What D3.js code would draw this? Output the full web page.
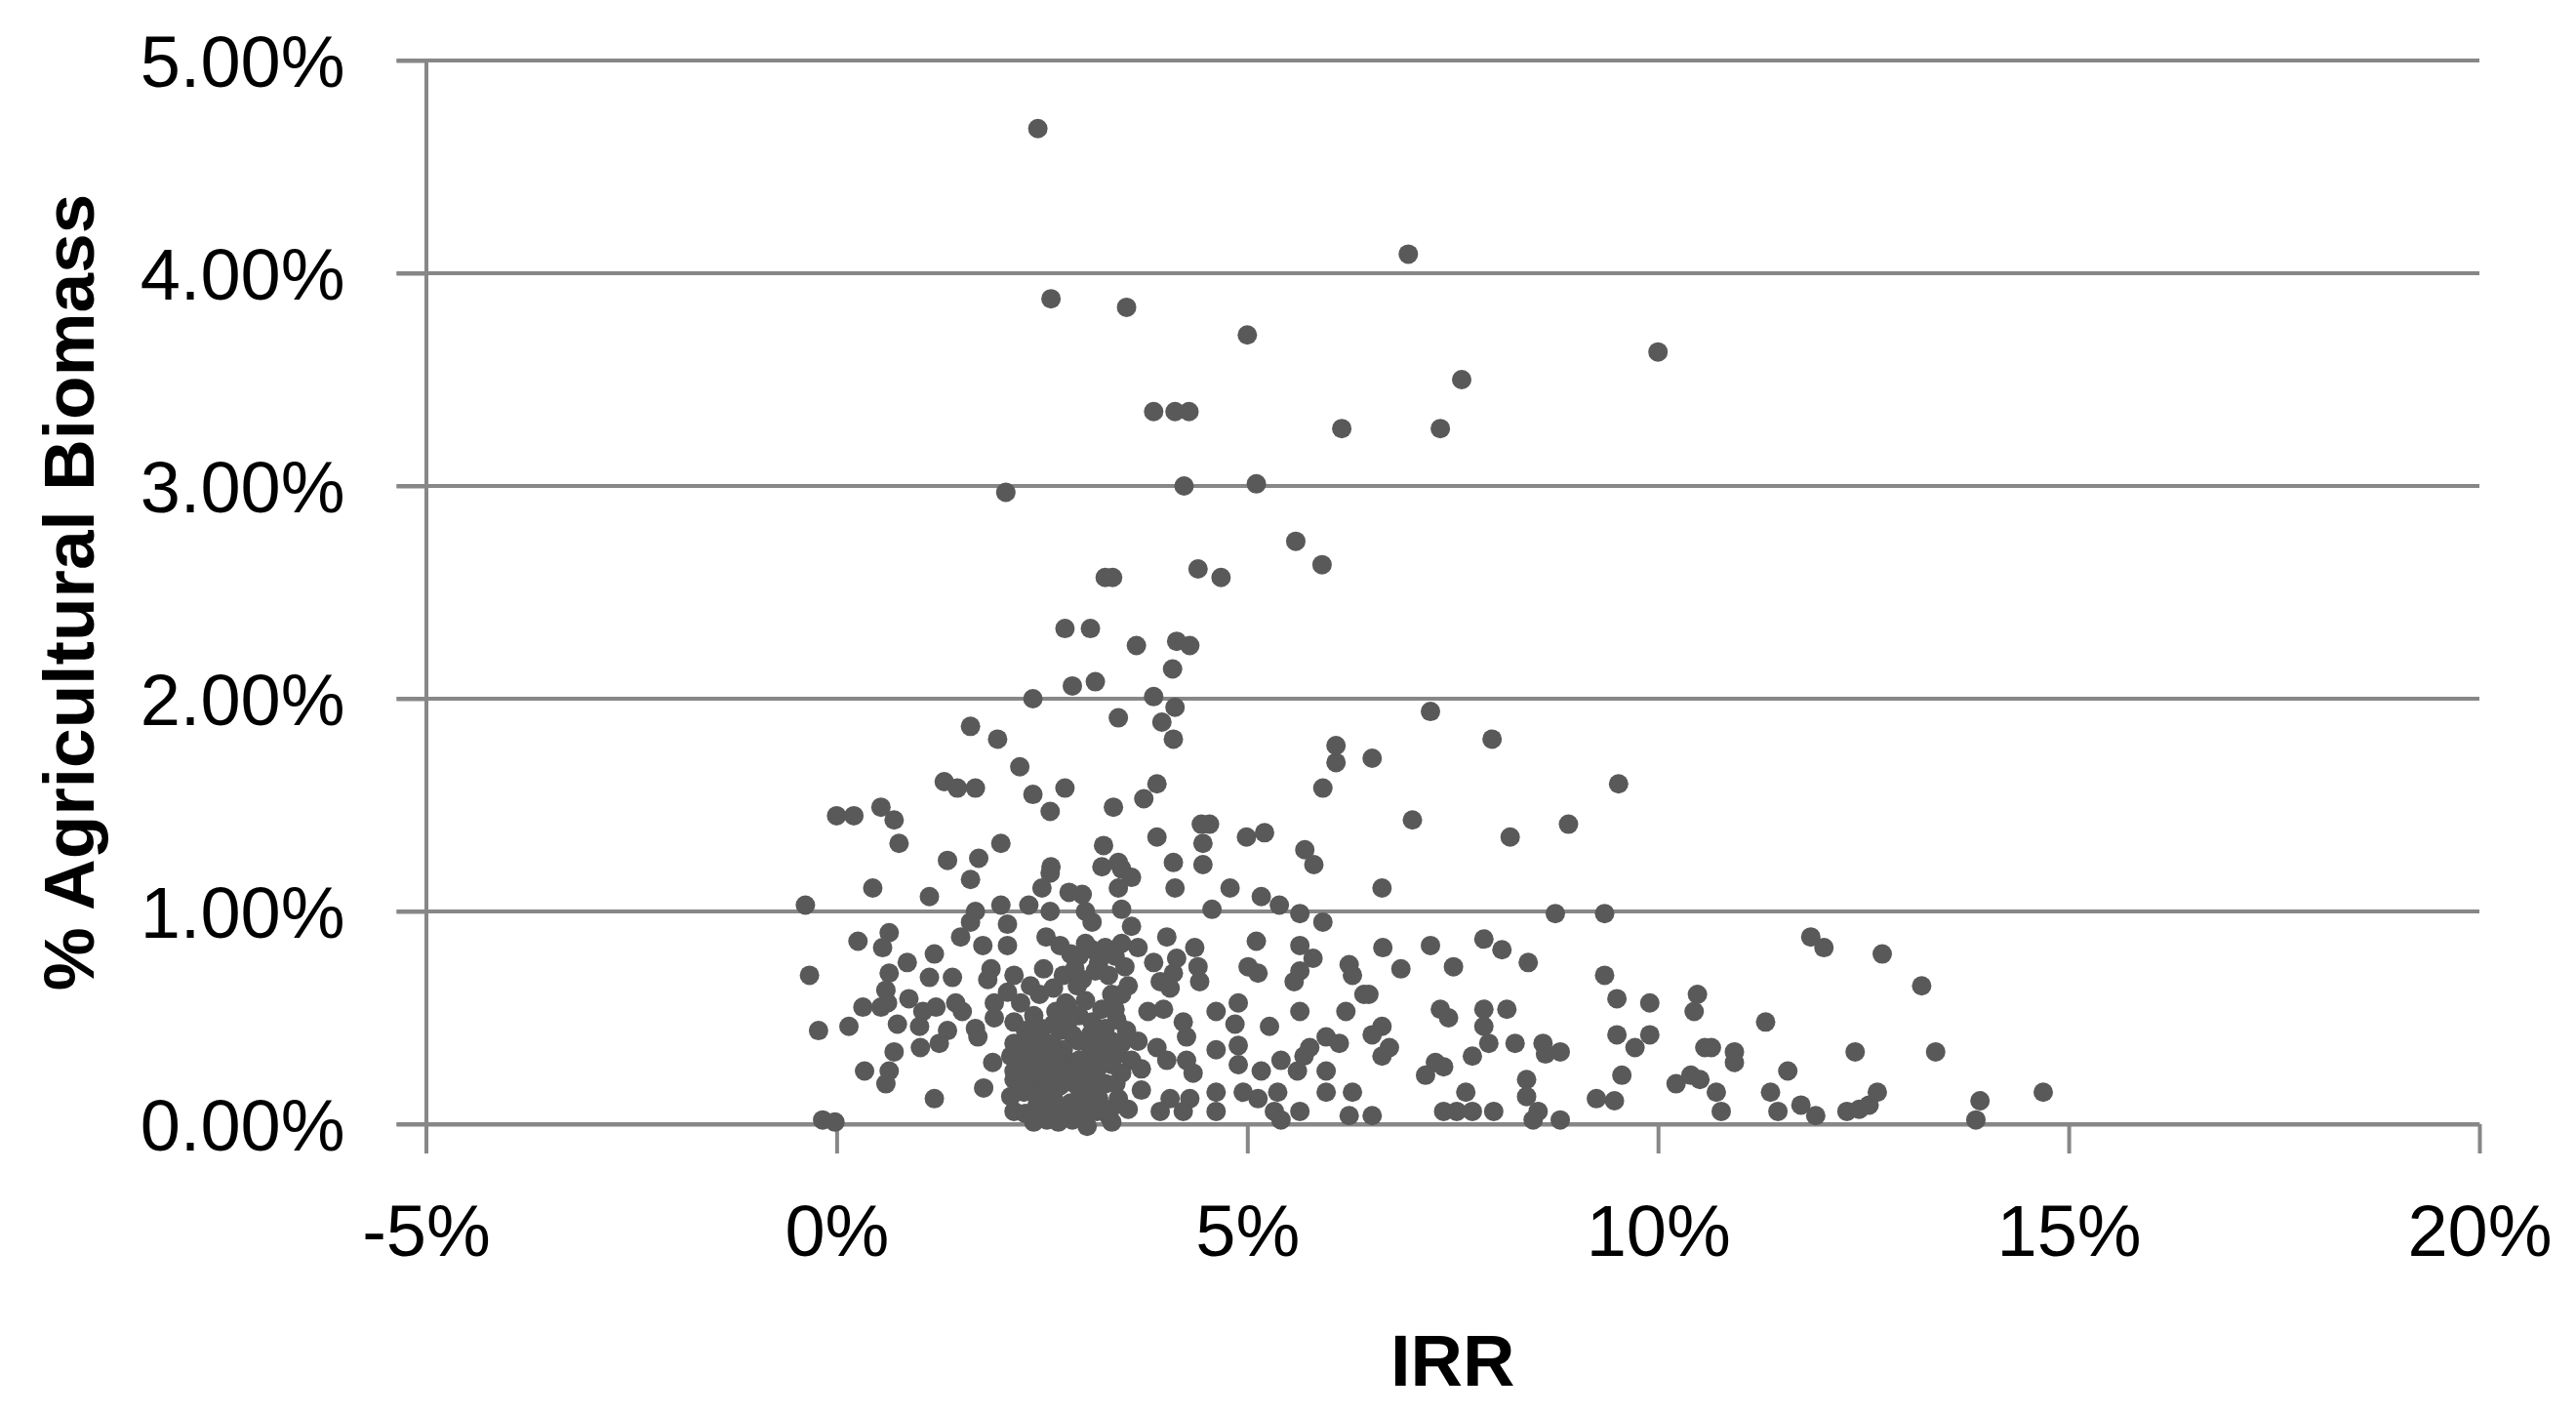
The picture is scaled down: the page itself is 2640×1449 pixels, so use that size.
<!DOCTYPE html>
<html>
<head>
<meta charset="utf-8">
<script src="https://cdn.jsdelivr.net/npm/d3@7"></script>
<style>
  body { margin: 0; background: #fff; }
  text { font-family: "Liberation Sans", Arial, sans-serif; }
</style>
</head>
<body>
<svg id="chart"></svg>
<script>
// tick values (percent)
var xTicks = [-5, 0, 5, 10, 15, 20];
var yTicks = [0, 1, 2, 3, 4, 5];

// [IRR %, % agricultural biomass]
var highSites = [
  [2.45,4.68],[6.96,4.09],[2.61,3.88],[3.53,3.84],[5.00,3.71],[10.00,3.63],[7.61,3.50],
  [3.86,3.35],[4.12,3.35],[4.29,3.35],[6.15,3.27],[7.35,3.27],[2.06,2.97],[4.23,3.00],
  [5.11,3.01],[5.59,2.74],[5.91,2.63],[3.27,2.57],[3.36,2.57],[4.40,2.61],[4.68,2.57]
];
var midSites = [
  [2.78,2.33],[3.09,2.33],[3.65,2.25],[4.14,2.27],[4.30,2.25],[4.09,2.14],[2.87,2.06],
  [3.15,2.08],[2.39,2.00],[3.86,2.01],[4.12,1.96],[3.43,1.91],[3.96,1.89],[4.10,1.81],
  [1.63,1.87],[1.96,1.81],[2.23,1.68],[1.31,1.61],[1.47,1.58],[1.69,1.58],[2.39,1.55],
  [2.78,1.58],[2.60,1.47],[3.37,1.49],[3.74,1.53],[3.90,1.60],[0.00,1.45],[0.21,1.45],
  [0.54,1.49],[0.70,1.43],[0.76,1.32],[1.35,1.24],[1.73,1.25],[2.00,1.32],[3.25,1.31],
  [3.90,1.35],[3.43,1.23],[3.23,1.21],[2.61,1.21],
  [7.23,1.94],[7.98,1.81],[6.08,1.78],[6.08,1.70],[6.52,1.72],[5.92,1.58],[9.52,1.60],
  [7.01,1.43],[8.91,1.41],[8.20,1.35],[4.44,1.41],[4.54,1.41],[4.46,1.32],[4.46,1.22],
  [4.99,1.35],[5.21,1.37],[5.70,1.29],[5.81,1.22],[4.10,1.23]
];
var leftSites = [
  [0.44,1.11],[1.63,1.15],[1.13,1.07],[-0.38,1.03],[2.60,1.18],[2.50,1.11],[2.83,1.09],
  [2.00,1.03],[2.34,1.03],[1.69,1.00],[1.63,0.95],[1.51,0.88],[2.08,0.94],[2.60,1.00],
  [2.55,0.88],[2.72,0.84],[1.78,0.84],[2.08,0.84],[0.26,0.86],[0.64,0.90],[0.56,0.83],
  [1.19,0.80],[0.86,0.76],[-0.33,0.70],[0.64,0.71],[1.13,0.69],[1.41,0.69],[1.88,0.73],
  [1.84,0.68],[2.16,0.70],[2.52,0.73],[2.76,0.70],[0.60,0.63],[0.88,0.59],[0.32,0.55],
  [0.54,0.55],[0.62,0.57],[0.74,0.47],[1.05,0.53],[1.21,0.55],[1.45,0.57],[1.53,0.53],
  [1.01,0.46],[1.35,0.44],[1.25,0.38],[1.69,0.45],[1.72,0.41],[1.92,0.57],[2.08,0.62],
  [2.24,0.57],[2.36,0.65],[2.64,0.64],[1.92,0.50],[2.16,0.48],[2.40,0.51],[2.67,0.53],
  [2.79,0.57],[-0.22,0.44],[0.15,0.46],[0.70,0.34],[1.02,0.36],[0.34,0.25],[0.64,0.25],
  [0.60,0.19],[1.19,0.12],[1.79,0.17],[1.90,0.29],[2.16,0.38],[2.24,0.33],[2.12,0.32],
  [2.16,0.21],[2.32,0.27],[2.48,0.39],[2.56,0.33],[2.72,0.44],[2.79,0.30],[2.44,0.18],
  [2.60,0.24],[2.72,0.18],[2.16,0.06],[2.44,0.09],[2.68,0.09],[2.79,0.06],[-0.17,0.02],
  [-0.02,0.01],[2.56,0.02]
];
var coreSites = [
  [3.47,1.20],[3.59,1.16],[3.43,1.11],[4.12,1.11],[4.79,1.11],[5.17,1.07],[5.39,1.03],
  [5.64,0.99],[5.92,0.95],[4.57,1.01],[3.47,1.01],[2.99,1.08],[3.03,1.00],[3.11,0.95],
  [3.59,0.93],[4.02,0.88],[5.11,0.86],[5.64,0.84],[5.80,0.78],[5.64,0.72],[5.57,0.67],
  [6.24,0.75],[6.28,0.70],[5.01,0.74],[5.13,0.71],[4.36,0.83],[4.40,0.74],[4.42,0.67],
  [4.14,0.78],[3.86,0.76],[3.94,0.67],[4.06,0.64],[4.10,0.71],[3.03,0.85],[3.27,0.83],
  [3.67,0.83],[2.95,0.79],[3.19,0.76],[3.39,0.79],[3.51,0.74],[2.99,0.68],[3.31,0.70],
  [3.55,0.65],[3.35,0.61],[3.39,0.54],[3.79,0.53],[3.98,0.54],[4.22,0.48],[4.26,0.41],
  [4.62,0.53],[4.89,0.57],[4.85,0.47],[4.89,0.37],[5.27,0.46],[4.62,0.35],[5.64,0.53],
  [6.20,0.53],[6.42,0.61],[5.96,0.41],[6.12,0.38],[5.76,0.36],[5.69,0.32],[4.89,0.28],
  [5.17,0.25],[5.41,0.30],[5.61,0.25],[5.96,0.25],[4.62,0.15],[4.95,0.15],[5.13,0.12],
  [5.37,0.15],[5.64,0.06],[5.33,0.06],[5.41,0.02],[5.96,0.15],[6.28,0.15],[6.24,0.04],
  [4.62,0.06],[4.06,0.12],[4.30,0.12],[3.94,0.06],[4.22,0.06],[3.71,0.16],[4.34,0.24],
  [4.02,0.30],[3.90,0.36],[3.67,0.39],[3.59,0.30],[4.26,0.30],
  [2.95,0.51],[3.11,0.48],[3.27,0.45],[2.95,0.39],[3.11,0.36],[3.35,0.39],[2.95,0.30],
  [3.19,0.27],[3.43,0.33],[3.03,0.18],[3.27,0.19],[3.47,0.24],[2.99,0.09],[3.19,0.12],
  [3.43,0.12],[3.03,0.02],[3.31,0.04],[3.55,0.07],
  [2.47,0.61],[2.64,0.47],[2.83,0.49],[2.87,0.42],[3.03,0.58],[2.76,0.35],
  [2.87,0.26],[3.05,0.24],[3.11,0.15],[2.85,0.10],[2.87,0.02],[3.17,0.06],[3.35,0.01],
  [2.64,0.12],[2.40,0.24],[2.28,0.15],[2.52,0.28],[2.76,0.22],[3.41,0.49],[3.53,0.44],
  [3.71,0.26],[2.93,0.65],[2.81,0.56],[3.23,0.54],[3.47,0.61],[2.70,0.01],
  [2.40,0.01],[3.09,0.42],[3.35,0.28],[3.14,0.33]
];
// the densest part of the cloud, around 2-3.5% IRR
var denseSites = [
  [2.30,0.44],[2.50,0.45],[2.33,0.37],[2.62,0.38],[3.23,0.38],[3.47,0.38],
  [2.40,0.31],[2.68,0.30],[3.05,0.31],[3.29,0.31],[2.16,0.25],[2.72,0.26],
  [2.30,0.20],[2.58,0.19],[2.90,0.19],[3.15,0.20],[3.40,0.19],[2.12,0.13],
  [2.45,0.13],[2.97,0.14],[2.30,0.05],[2.56,0.06],[3.33,0.07],[3.05,-0.01],
  [2.85,0.80],[3.11,0.82],[3.47,0.85],[3.15,0.72],[2.90,0.73]
];
var rightSites = [
  [6.64,1.11],[8.75,0.99],[9.35,0.99],[6.65,0.83],[6.87,0.73],[7.23,0.84],[7.51,0.74],
  [7.88,0.87],[8.10,0.82],[8.42,0.76],[9.35,0.70],[6.48,0.61],[7.35,0.54],[7.45,0.50],
  [7.88,0.54],[8.16,0.54],[7.88,0.46],[6.64,0.46],[6.52,0.42],[6.73,0.36],[6.64,0.32],
  [7.94,0.38],[8.26,0.38],[8.60,0.38],[8.63,0.33],[8.81,0.34],[7.74,0.32],[7.29,0.29],
  [7.39,0.27],[7.17,0.23],[9.50,0.59],[9.90,0.57],[10.48,0.61],[10.44,0.53],[9.50,0.42],
  [9.90,0.42],[9.72,0.36],[10.57,0.36],[9.56,0.23],[10.22,0.19],[10.40,0.23],[10.51,0.21],
  [9.25,0.12],[9.47,0.11],[8.40,0.21],[8.40,0.13],[8.54,0.06],[8.48,0.02],[8.81,0.02],
  [7.66,0.15],[7.39,0.06],[7.55,0.06],[7.74,0.06],[8.00,0.06],[6.52,0.04],
  [11.86,0.88],[12.02,0.83],[12.73,0.80],[13.21,0.65],[11.31,0.48],[10.65,0.36],
  [10.93,0.34],[10.93,0.29],[11.58,0.25],[12.40,0.34],[13.38,0.34],[10.71,0.15],
  [10.77,0.06],[11.37,0.15],[11.46,0.06],[11.74,0.09],[11.92,0.04],[12.30,0.06],
  [12.45,0.07],[12.57,0.09],[12.67,0.15],[13.92,0.11],[13.87,0.02],[14.69,0.15]
];

var W = 2640, H = 1449;
var margin = {top: 62, right: 99, bottom: 297, left: 436.5};
var width = W - margin.left - margin.right;
var height = H - margin.top - margin.bottom;
var gridColor = '#878787';

var x = d3.scaleLinear().domain([-5, 20]).range([0, width]);
var y = d3.scaleLinear().domain([0, 5]).range([height, 0]);

var svg = d3.select('#chart')
    .attr('width', W)
    .attr('height', H);
svg.append('rect').attr('width', W).attr('height', H).attr('fill', '#fff');

var g = svg.append('g')
    .attr('transform', 'translate(' + margin.left + ',' + margin.top + ')');

// horizontal gridlines (they also run out past the axis as the tick marks)
g.append('g')
  .selectAll('line')
  .data(yTicks)
  .enter()
  .append('line')
    .attr('x1', -30)
    .attr('x2', width)
    .attr('y1', function(d) { return y(d); })
    .attr('y2', function(d) { return y(d); })
    .attr('stroke', gridColor)
    .attr('stroke-width', 4);

// Y axis
var yAxis = g.append('g')
    .call(d3.axisLeft(y)
      .tickValues(yTicks)
      .tickSize(30)
      .tickSizeOuter(0)
      .tickPadding(53)
      .tickFormat(function(d) { return d.toFixed(2) + '%'; }));

// X axis
var xAxis = g.append('g')
    .attr('transform', 'translate(0,' + height + ')')
    .call(d3.axisBottom(x)
      .tickValues(xTicks)
      .tickSize(30)
      .tickSizeOuter(0)
      .tickPadding(52)
      .tickFormat(function(d) { return d + '%'; }));

[yAxis, xAxis].forEach(function(ax) {
  ax.select('.domain').attr('stroke', gridColor).attr('stroke-width', 4);
  ax.selectAll('.tick line').attr('stroke', gridColor).attr('stroke-width', 4);
  ax.selectAll('.tick text')
    .attr('fill', '#000')
    .style('font-family', '"Liberation Sans", Arial, sans-serif')
    .style('font-size', '74px');
});
yAxis.selectAll('.tick text').attr('dy', '0.36em');

// points
var sites = highSites.concat(midSites, leftSites, coreSites, denseSites, rightSites);
g.append('g')
  .selectAll('circle')
  .data(sites)
  .enter()
  .append('circle')
    .attr('cx', function(d) { return x(d[0]); })
    .attr('cy', function(d) { return y(d[1]); })
    .attr('r', 10)
    .attr('fill', '#595959');

// axis titles
svg.append('text')
    .attr('transform', 'translate(96,' + (margin.top + height / 2) + ') rotate(-90)')
    .attr('text-anchor', 'middle')
    .style('font-size', '73px')
    .style('font-weight', 'bold')
    .text('% Agricultural Biomass');

svg.append('text')
    .attr('x', margin.left + width / 2)
    .attr('y', 1420)
    .attr('text-anchor', 'middle')
    .style('font-size', '74px')
    .style('font-weight', 'bold')
    .text('IRR');
</script>
</body>
</html>
